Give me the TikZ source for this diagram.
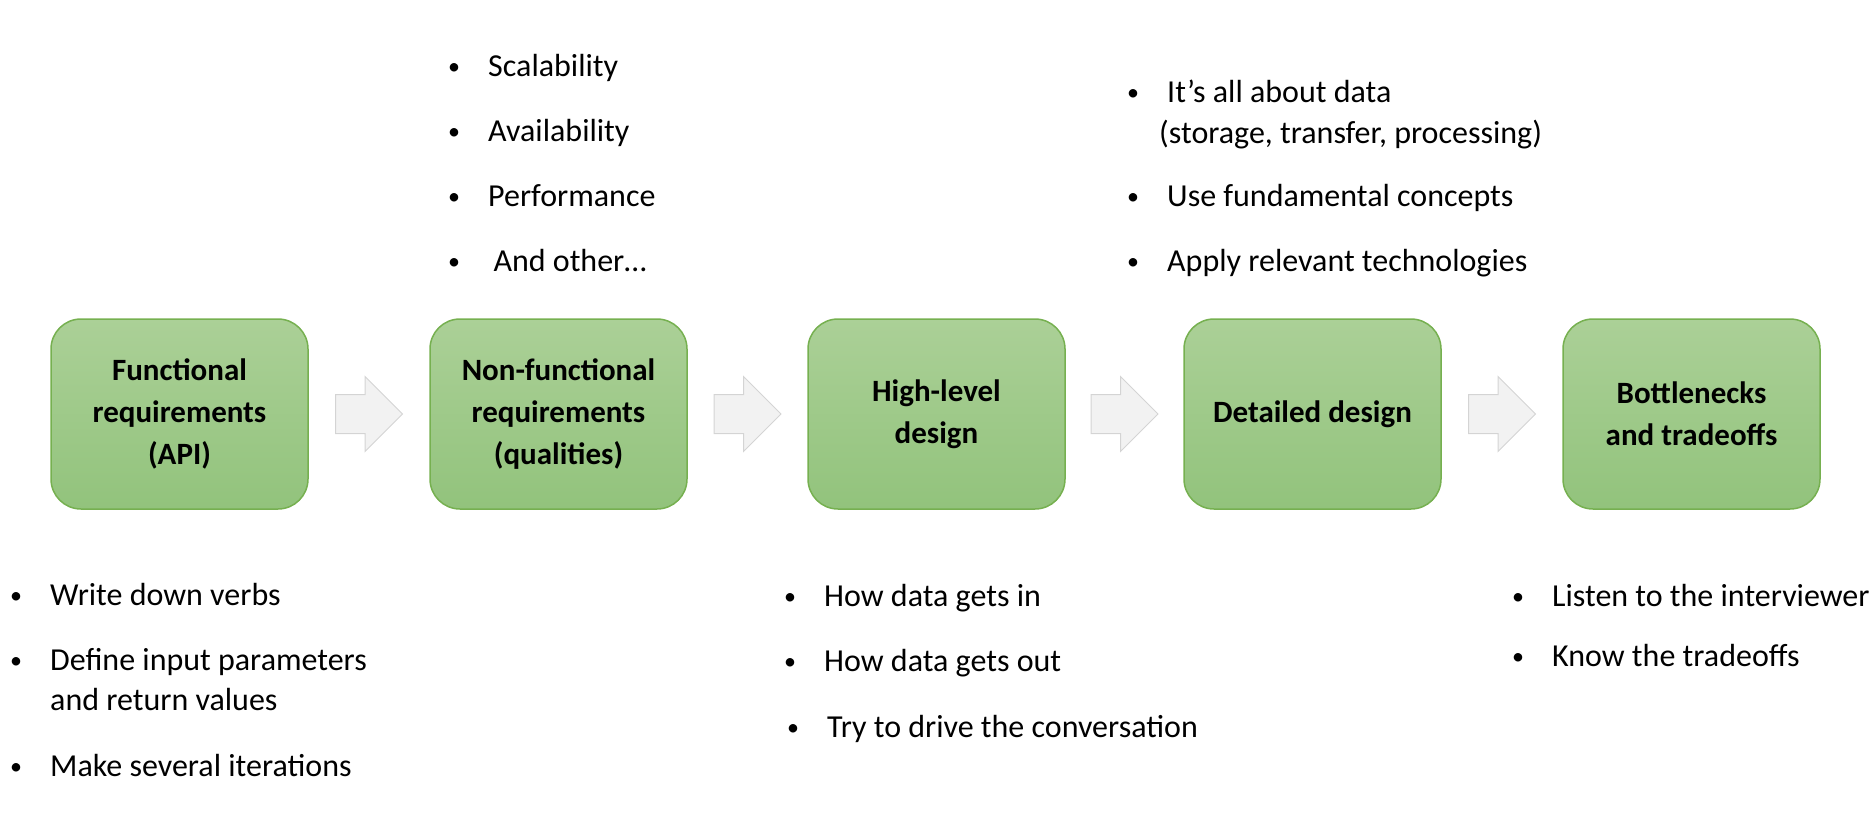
\documentclass[tikz,border=0pt]{standalone}
\usepackage{fontspec}
\setmainfont{Carlito}
\usetikzlibrary{shapes.arrows,calc}

\definecolor{boxtop}{RGB}{171,208,151}
\definecolor{boxbot}{RGB}{146,195,124}
\definecolor{boxline}{RGB}{118,176,80}
\definecolor{arrfill}{RGB}{242,242,242}
\definecolor{arrline}{RGB}{212,212,212}

\tikzset{
	stage/.style={draw=boxline, line width=1.5pt, rounded corners=30pt, top color=boxtop, bottom color=boxbot,
		minimum width=257pt, minimum height=190pt, inner sep=0pt, align=center,
		font=\fontsize{31}{42}\selectfont\bfseries},
	flow/.style={single arrow, draw=arrline, fill=arrfill, line width=1pt, inner sep=0pt,
		text height=19pt, text depth=19pt, minimum height=67pt, minimum width=74pt,
		single arrow head extend=18pt, anchor=tail, xshift=-34pt},
	point/.style={anchor=base west, inner sep=0pt, font=\fontsize{32}{41}\selectfont},
}
\newcommand{\bitem}[1]{\makebox[40pt][l]{\raisebox{2pt}{\fontsize{24}{24}\selectfont\textbullet}}#1}

\begin{document}
\begin{tikzpicture}[x=1pt,y=-1pt]
	\useasboundingbox (0,0) rectangle (1874,819);
	
	\node[stage] (func) at (179.5,414) {Functional\\requirements\\(API)};
	\node[stage] (nonfunc) at (558.5,414) {Non-functional\\requirements\\(qualities)};
	\node[stage] (high) at (936.5,414) {High-level\\design};
	\node[stage] (detail) at (1312.5,414) {Detailed design};
	\node[stage] (bottle) at (1691.5,414) {Bottlenecks\\and tradeoffs};
	
	\node[flow] (a1) at ($(func.east)!0.5!(nonfunc.west)$) {};
	\node[flow] (a2) at ($(nonfunc.east)!0.5!(high.west)$) {};
	\node[flow] (a3) at ($(high.east)!0.5!(detail.west)$) {};
	\node[flow] (a4) at ($(detail.east)!0.5!(bottle.west)$) {};
	
	\node[point] (w1) at (10,605) {\bitem{Write down verbs}};
	\node[point] (w2) at (10,670) {\bitem{Define input parameters}};
	\node[point] (w2b) at (50,710) {and return values};
	\node[point] (w3) at (10,776) {\bitem{Make several iterations}};
	
	\node[point] (q1) at (448,76) {\bitem{Scalability}};
	\node[point] (q2) at (448,141) {\bitem{Availability}};
	\node[point] (q3) at (448,206) {\bitem{Performance}};
	\node[point] (q4) at (448,271) {\bitem{\,And other…}};
	
	\node[point] (h1) at (784,606) {\bitem{How data gets in}};
	\node[point] (h2) at (784,671) {\bitem{How data gets out}};
	\node[point] (h3) at (787,737) {\bitem{Try to drive the conversation}};
	
	\node[point] (d1) at (1127,102) {\bitem{It’s all about data}};
	\node[point] (d1b) at (1159,143) {(storage, transfer, processing)};
	\node[point] (d2) at (1127,206) {\bitem{Use fundamental concepts}};
	\node[point] (d3) at (1127,271) {\bitem{Apply relevant technologies}};
	
	\node[point] (t1) at (1512,606) {\bitem{Listen to the interviewer}};
	\node[point] (t2) at (1512,666) {\bitem{Know the tradeoffs}};
\end{tikzpicture}
\end{document}
